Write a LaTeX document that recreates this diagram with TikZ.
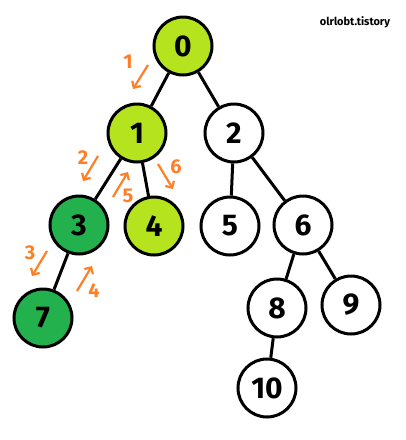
\documentclass[tikz,border=0pt]{standalone}
\usepackage{fontspec}
\setmainfont{Fira Sans}
\usetikzlibrary{arrows.meta}
\definecolor{lime}{HTML}{B5E31E}
\definecolor{dgreen}{HTML}{22B14C}
\definecolor{orng}{HTML}{FF7F27}
\tikzset{
  vtx/.style={circle, draw=black, line width=3pt, minimum size=58pt, inner sep=0pt, font=\fontsize{30}{30}\selectfont\bfseries},
  edge/.style={line width=3pt, black},
  trav/.style={draw=orng, line width=2.2pt, -{Straight Barb[length=5pt,width=10pt,line width=2.2pt]}},
  tlabel/.style={text=orng, font=\fontsize{20}{20}\selectfont\bfseries},
}
\begin{document}
\begin{tikzpicture}[x=1pt,y=-1pt]
\useasboundingbox (0,0) rectangle (406,440);
\node[vtx, fill=lime] (n0) at (183,46) {0};
\node[vtx, fill=lime] (n1) at (137,133) {1};
\node[vtx, fill=white] (n2) at (234,133) {2};
\node[vtx, fill=dgreen] (n3) at (79,225) {3};
\node[vtx, fill=lime] (n4) at (154,226) {4};
\node[vtx, fill=white] (n5) at (230,226) {5};
\node[vtx, fill=white] (n6) at (303,225) {6};
\node[vtx, fill=dgreen] (n7) at (43,318) {7};
\node[vtx, fill=white] (n8) at (277,308) {8};
\node[vtx, fill=white] (n9) at (351,305) {9};
\node[vtx, fill=white] (n10) at (267,388) {10};
\draw[edge] (n0) -- (n1);
\draw[edge] (n0) -- (n2);
\draw[edge] (n1) -- (n3);
\draw[edge] (n1) -- (n4);
\draw[edge] (n2) -- (n5);
\draw[edge] (n2) -- (n6);
\draw[edge] (n3) -- (n7);
\draw[edge] (n6) -- (n8);
\draw[edge] (n6) -- (n9);
\draw[edge] (n8) -- (n10);
\node[font=\fontsize{11}{11}\selectfont\bfseries] (wm) at (355,22) {olrlobt.tistory};
% traversal arrows
\coordinate (a1s) at (148,65); \coordinate (a1e) at (133,89);
\coordinate (a2s) at (98,156); \coordinate (a2e) at (83,181);
\coordinate (a3s) at (47,251); \coordinate (a3e) at (32,276);
\coordinate (a4s) at (77,291); \coordinate (a4e) at (92,266);
\coordinate (a5s) at (113,197); \coordinate (a5e) at (128,172);
\coordinate (a6s) at (158,164); \coordinate (a6e) at (173,189);
\draw[trav] (a1s) -- (a1e);
\draw[trav] (a2s) -- (a2e);
\draw[trav] (a3s) -- (a3e);
\draw[trav] (a4s) -- (a4e);
\draw[trav] (a5s) -- (a5e);
\draw[trav] (a6s) -- (a6e);
\node[tlabel] (l1) at (128,62) {1};
\node[tlabel] (l2) at (83,158) {2};
\node[tlabel] (l3) at (30,253) {3};
\node[tlabel] (l4) at (94,291) {4};
\node[tlabel] (l5) at (128,196) {5};
\node[tlabel] (l6) at (176,167) {6};
\end{tikzpicture}
\end{document}
